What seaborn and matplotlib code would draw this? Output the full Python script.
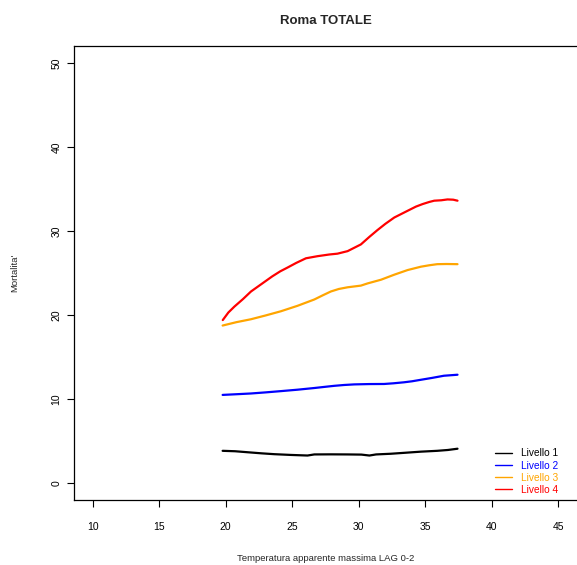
import numpy as np
import pandas as pd
import matplotlib
matplotlib.use("Agg")
import matplotlib.pyplot as plt
import seaborn as sns

# ---- data ----
levels = ["Livello 1", "Livello 2", "Livello 3", "Livello 4"]
colors = ["black", "blue", "orange", "red"]

x_l1 = [19.77, 20.7, 21.65, 22.7, 23.65, 24.9, 26.15, 26.66, 27.9, 29.16, 30.2, 30.8, 31.3, 32.4, 33.5, 34.67, 35.9, 36.7, 37.42]
y_l1 = [3.85, 3.8, 3.68, 3.55, 3.45, 3.36, 3.29, 3.42, 3.43, 3.42, 3.4, 3.29, 3.42, 3.5, 3.62, 3.75, 3.85, 3.95, 4.1]

x_l2 = [19.77, 20.8, 21.9, 23.0, 24.15, 25.4, 26.66, 27.4, 28.16, 28.9, 29.66, 30.8, 31.9, 32.6, 33.4, 34.0, 34.67, 35.5, 36.4, 37.0, 37.42]
y_l2 = [10.5, 10.58, 10.67, 10.8, 10.95, 11.12, 11.32, 11.45, 11.58, 11.68, 11.75, 11.79, 11.8, 11.88, 12.0, 12.12, 12.3, 12.52, 12.78, 12.85, 12.9]

x_l3 = [19.77, 20.8, 21.9, 23.0, 24.15, 25.4, 26.66, 27.3, 27.9, 28.5, 29.16, 30.16, 30.66, 31.67, 32.67, 33.67, 34.67, 35.3, 35.9, 36.6, 37.42]
y_l3 = [18.75, 19.15, 19.5, 19.95, 20.45, 21.1, 21.85, 22.35, 22.8, 23.1, 23.3, 23.5, 23.76, 24.2, 24.8, 25.35, 25.75, 25.92, 26.05, 26.07, 26.05]

x_l4 = [19.78, 20.2, 20.65, 21.3, 21.9, 22.7, 23.5, 24.1, 24.65, 25.3, 26.03, 26.9, 27.78, 28.4, 29.16, 30.16, 30.8, 31.4, 32.0, 32.67, 33.67, 34.3, 34.8, 35.3, 35.67, 36.2, 36.67, 37.1, 37.42]
y_l4 = [19.4, 20.3, 21.0, 21.9, 22.8, 23.7, 24.6, 25.2, 25.65, 26.2, 26.75, 27.0, 27.2, 27.3, 27.6, 28.4, 29.3, 30.1, 30.85, 31.6, 32.4, 32.9, 33.2, 33.45, 33.6, 33.65, 33.75, 33.72, 33.6]

x_ticks = [10, 15, 20, 25, 30, 35, 40, 45]
y_ticks = [0, 10, 20, 30, 40, 50]

title = "Roma TOTALE"
xlabel = "Temperatura apparente massima LAG 0-2"
ylabel = "Mortalita'"

frames = []
for lev, xs, ys in zip(levels, [x_l1, x_l2, x_l3, x_l4], [y_l1, y_l2, y_l3, y_l4]):
    frames.append(pd.DataFrame({"temp": xs, "mort": ys, "livello": lev}))
df = pd.concat(frames, ignore_index=True)

sns.set_style("white")
plt.rcParams["font.family"] = ["Liberation Sans", "DejaVu Sans"]

fig = plt.figure(figsize=(5.77, 5.65), dpi=100)
W, H = 577, 565
ax = fig.add_axes([74 / W, 1 - 500 / H, (577 - 74) / W, (500 - 46) / H])

sns.lineplot(data=df, x="temp", y="mort", hue="livello", palette=colors,
             hue_order=levels, linewidth=1.6, ax=ax, sort=True, estimator=None)

ax.set_xlim(8.6, 46.4)
ax.set_ylim(-2, 52)
ax.set_xticks(x_ticks)
ax.set_yticks(y_ticks)
ax.tick_params(axis="both", direction="out", length=5, width=0.8, colors="black",
               labelsize=7.5, bottom=True, left=True)
ax.tick_params(axis="x", pad=11)
ax.tick_params(axis="y", pad=4)
for lab in ax.get_yticklabels():
    lab.set_rotation(90)
    lab.set_va("center")

for s in ["left", "bottom", "top"]:
    ax.spines[s].set_visible(True)
    ax.spines[s].set_color("black")
    ax.spines[s].set_linewidth(0.9)
ax.spines["right"].set_visible(False)

ax.set_xlabel(xlabel, fontsize=6.8, labelpad=16)
ax.set_ylabel(ylabel, fontsize=6.8, labelpad=23)
ax.set_title(title, fontsize=9.5, fontweight="bold", pad=16)

handles, labels = ax.get_legend_handles_labels()
leg = ax.legend(handles, labels, loc="lower left",
                bbox_to_anchor=((493 - 74) / (577 - 74), (500 - 497) / (500 - 46)),
                frameon=False, fontsize=7.3, handlelength=1.7, handletextpad=0.85,
                labelspacing=0.22, borderpad=0.2, borderaxespad=0)
for txt, c in zip(leg.get_texts(), colors):
    txt.set_color(c)
for ln in leg.get_lines():
    ln.set_linewidth(1.0)

fig.savefig("out.png", dpi=100)
